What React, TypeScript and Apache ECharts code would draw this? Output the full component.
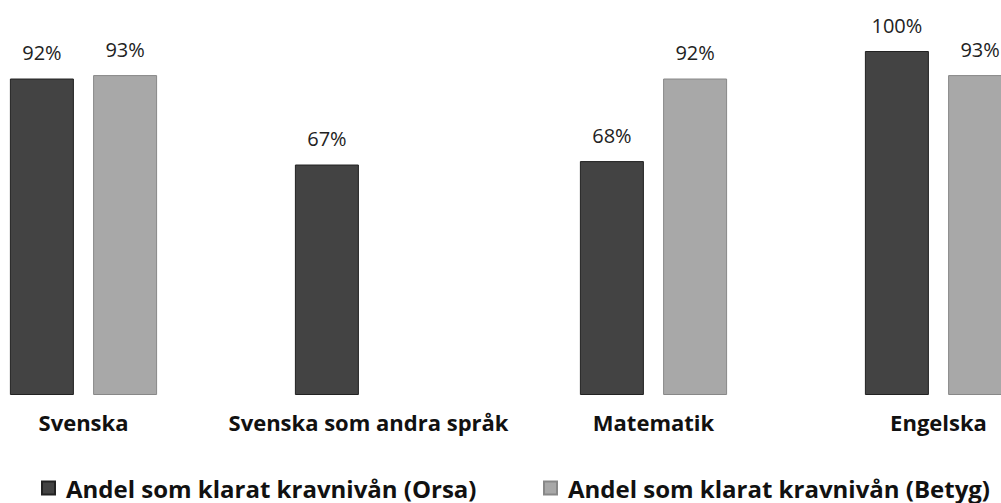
import { useEffect, useRef } from "react";
import * as echarts from "echarts";

const categories = ["Svenska", "Svenska som andra språk", "Matematik", "Engelska"];
const orsaValues: (number | null)[] = [92, 67, 68, 100];
const betygValues: (number | null)[] = [93, null, 92, 93];
const seriesNames = ["Andel som klarat kravnivån (Orsa)", "Andel som klarat kravnivån (Betyg)"];

const FONT = "'Open Sans', Lato, sans-serif";

export default function App() {
  const ref = useRef<HTMLDivElement>(null);
  useEffect(() => {
    const chart = echarts.init(ref.current!, null, { renderer: "svg" });
    const labelStyle = {
      show: true,
      position: "top" as const,
      distance: 16,
      formatter: "{c}%",
      fontFamily: FONT,
      fontSize: 20,
      color: "#222",
    };
    const legendBase = {
      top: 476,
      padding: 0,
      itemWidth: 13,
      itemHeight: 13,
      icon: "rect",
      textStyle: {
        fontFamily: FONT,
        fontWeight: "bold",
        fontSize: 24,
        color: "#111",
        padding: [0, 0, 0, 6],
      },
    };
    chart.setOption({
      animation: false,
      backgroundColor: "#ffffff",
      grid: { left: 0, right: 0, top: 51, bottom: 108, containLabel: false },
      xAxis: {
        type: "category",
        data: categories,
        axisLine: { show: false },
        axisTick: { show: false },
        axisLabel: {
          margin: 16,
          fontFamily: FONT,
          fontWeight: "bold",
          fontSize: 22,
          color: "#111",
          interval: 0,
        },
      },
      yAxis: {
        type: "value",
        min: 0,
        max: 100,
        show: false,
        splitLine: { show: false },
      },
      legend: [
        { ...legendBase, data: [seriesNames[0]], left: 100 },
        { ...legendBase, data: [seriesNames[1]], left: 602 },
      ],
      series: [
        {
          name: seriesNames[0],
          type: "bar",
          data: orsaValues,
          barWidth: 64,
          barGap: "30%",
          itemStyle: { color: "#434343", borderColor: "#222", borderWidth: 1 },
          label: labelStyle,
        },
        {
          name: seriesNames[1],
          type: "bar",
          data: betygValues,
          barWidth: 64,
          itemStyle: { color: "#a8a8a8", borderColor: "#888", borderWidth: 1 },
          label: labelStyle,
        },
      ],
    });
    return () => chart.dispose();
  }, []);
  return (
    <div
      style={{
        position: "fixed",
        left: 0,
        top: 0,
        width: 1001,
        height: 503,
        overflow: "hidden",
        background: "#fff",
      }}
    >
      <div ref={ref} style={{ position: "absolute", left: -59, top: 0, width: 1140, height: 503 }} />
    </div>
  );
}
